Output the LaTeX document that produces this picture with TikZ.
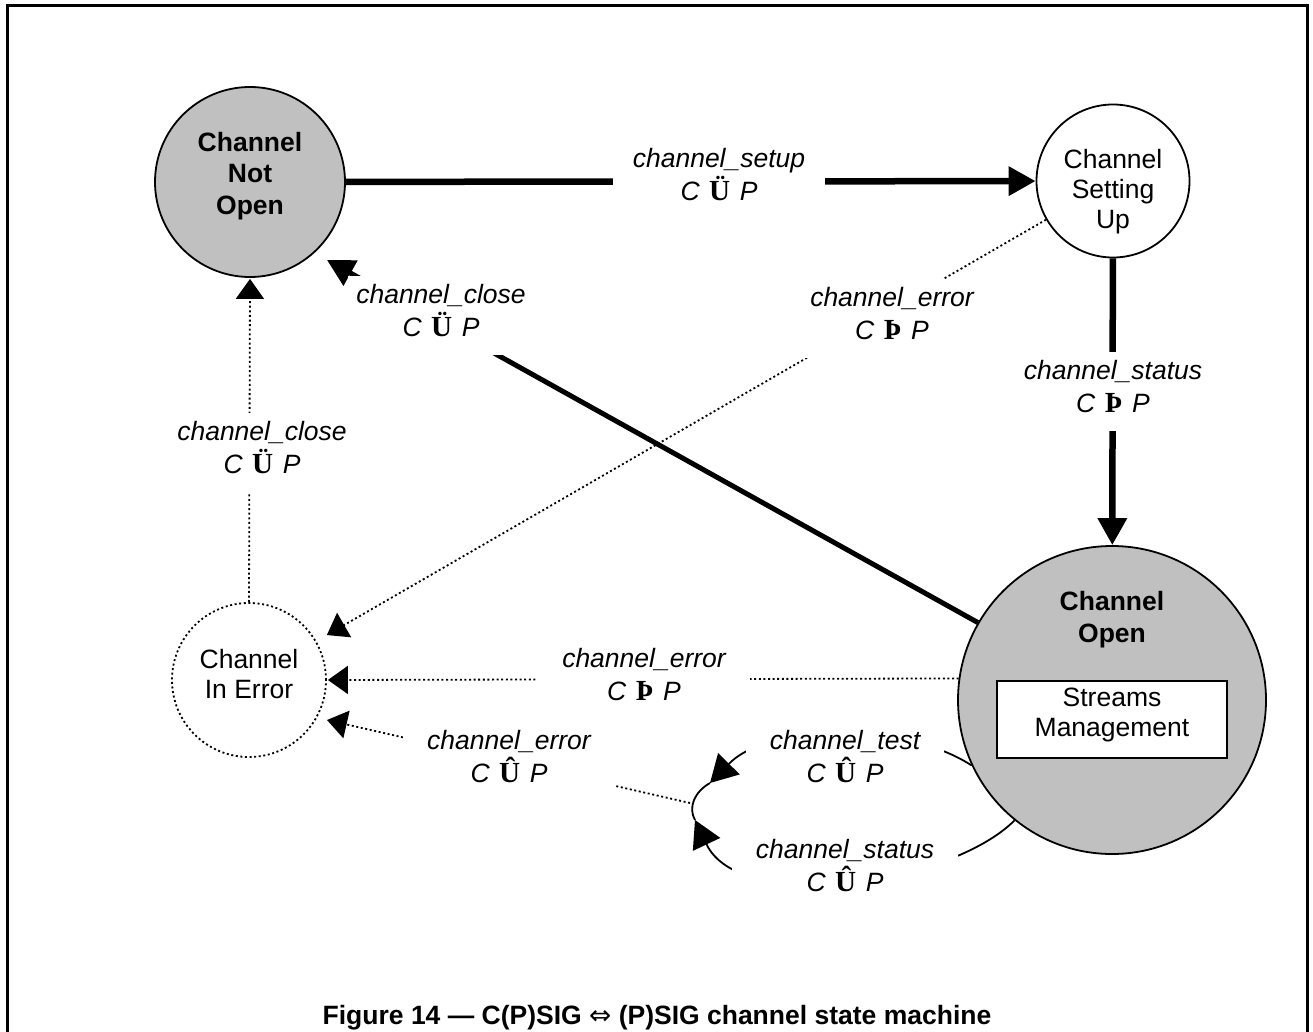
\documentclass[tikz,border=0pt]{standalone}
\usepackage{fontspec}
\setmainfont{Liberation Sans}
\newfontfamily\serifsym[Scale=1.1]{Liberation Serif}
\newfontfamily\arrowsym{DejaVu Sans}
\usetikzlibrary{arrows.meta}
\definecolor{stategray}{RGB}{192,192,192}

% "C <symbol> P" direction marks under the message names
\newcommand\dirmark[1]{C\hspace{0.36em}{\upshape\serifsym\bfseries #1}\hspace{0.36em}P}
% extra room under a label, as in the label boxes of the drawing
\newcommand\lowpad{\rule[-10pt]{0pt}{10pt}}

\tikzset{
  txt/.style={font=\fontsize{26.5}{30}\selectfont},
  state/.style={circle, draw=black, line width=1.8pt, inner sep=0pt},
  stategrey/.style={state, fill=stategray},
  errstate/.style={state, dash pattern=on 2pt off 2.6pt},
  statename/.style={font=\fontsize{26.5}{30}\selectfont, anchor=north, inner sep=0pt, align=center},
  boldname/.style={statename, font=\fontsize{26.5}{31.3}\selectfont\bfseries},
  lbl/.style={font=\fontsize{26.5}{33.5}\selectfont\itshape, fill=white, align=center,
              anchor=north, inner xsep=24pt, inner ysep=8pt},
  heavy/.style={line width=6.5pt, -{Triangle[length=27pt,width=28pt]}},
  dotline/.style={line width=1.8pt, dash pattern=on 2pt off 2.6pt,
                  -{Triangle[length=20pt,width=28pt]}},
  loopline/.style={line width=1.8pt, -{Triangle[length=27pt,width=30pt]}},
}

\begin{document}
\begin{tikzpicture}[x=1pt,y=-1pt]
\useasboundingbox (0,0) rectangle (1313,1032);
\clip (0,0) rectangle (1313,1032);

% outer frame (open at the bottom edge of the page)
\draw[line width=3pt] (7,1040) -- (7,6) -- (1307,6) -- (1307,1040);

% states
\node[stategrey, minimum size=190pt] (notopen) at (250,182) {};
\node[state, fill=white, minimum size=153pt] (setup) at (1113,181) {};
\node[stategrey, minimum size=308pt] (open) at (1112,700) {};
\node[errstate, minimum size=154pt] (err) at (249,680) {};

\node[boldname] (notopenT) at (250,132) {Channel\\Not\\Open};
\node[statename] (setupT) at (1113,149.5) {Channel\\Setting\\Up};
\node[boldname, font=\fontsize{26.5}{32}\selectfont\bfseries] (openT) at (1112,591) {Channel\\Open};
\node[statename] (errT) at (249,649) {Channel\\In Error};
\node[draw=black, fill=white, line width=1.8pt, minimum width=230pt, minimum height=77pt,
      inner sep=0pt] (streams) at (1112,719.5) {};
\node[statename] (streamsT) at (1112,688) {Streams\\Management};

% junction of the two loops on the open state
\coordinate (jt) at (710,783);
\coordinate (js) at (695,820);
\coordinate (jm) at (690,803);
\coordinate (closetip) at (327,260);
\coordinate (errlow) at (327,720);

% transitions
\draw[heavy] (notopen) -- (setup);
\draw[heavy] (setup) -- (open);
\draw[line width=5pt, -{Triangle[length=27pt,width=28pt]}] (open.150) -- (closetip);
\draw[dotline, shorten >=12pt] (setup) -- (err);
\draw[dotline, shorten >=1pt] (err.north) -- (notopen.south);
\draw[dotline, shorten >=1pt] (open.172.5) -- (err.east);
\draw[dotline] (jm) -- (errlow);
\draw[loopline] (open.205) .. controls (905,722) and (770,722) .. (jt);
\draw[loopline] (open.231) .. controls (950,885) and (740,915) .. (js);
\draw[line width=1.8pt] (jt) .. controls (694,792) and (688,808) .. (js);

% transition labels
\node[lbl, inner xsep=20pt] (lSetup) at (719,139.7) {channel\_setup\\\dirmark{Ü}\lowpad};
\node[lbl, inner xsep=8pt] (lCloseA) at (441,276) {channel\_close\\\dirmark{Ü}\lowpad};
\node[lbl] (lCloseB) at (262,412.7) {channel\_close\\\dirmark{Ü}\lowpad};
\node[lbl, inner xsep=8pt] (lErrA) at (892,279) {channel\_error\\\dirmark{Þ}\lowpad};
\node[lbl] (lStatA) at (1113,351.7) {channel\_status\\\dirmark{Þ}\lowpad};
\node[lbl] (lErrB) at (644,639.7) {channel\_error\\\dirmark{Þ}\lowpad};
\node[lbl] (lErrC) at (509,721.7) {channel\_error\\\dirmark{Û}\lowpad};
\node[lbl] (lTest) at (845,721.7) {channel\_test\\\dirmark{Û}\lowpad};
\node[lbl] (lStatB) at (845,830.7) {channel\_status\\\dirmark{Û}\lowpad};

% caption
\node[font=\fontsize{26.5}{31.5}\selectfont\bfseries, anchor=base, inner sep=0pt] (title) at (657,1024)
  {Figure 14 — C(P)SIG {\arrowsym\mdseries ⇔} (P)SIG channel state machine};
\end{tikzpicture}
\end{document}
